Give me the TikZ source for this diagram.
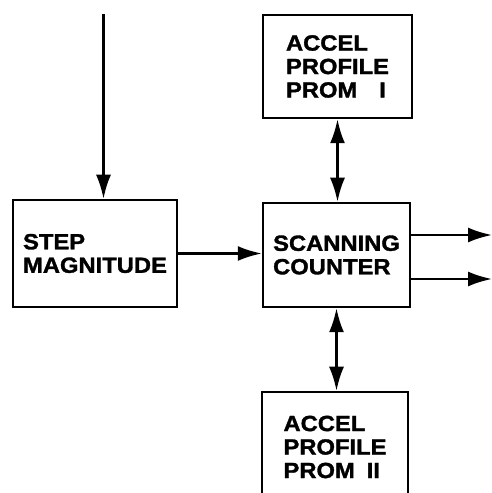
\documentclass[tikz,border=0pt]{standalone}
\usepackage{fontspec}
\setmainfont{Liberation Sans}[FakeStretch=1.08, BoldFeatures={FakeBold=1.5}]
\usetikzlibrary{arrows.meta}
\tikzstyle{block}=[draw=black, line width=2.5pt, align=left, inner sep=0pt, font=\bfseries\fontsize{22}{23.5}\selectfont]
\tikzstyle{wire}=[line width=2.5pt, -{Latex[length=24pt,width=15pt]}]
\tikzstyle{bus}=[line width=2.5pt, {Latex[length=24pt,width=15pt]}-{Latex[length=24pt,width=15pt]}]

\begin{document}
\begin{tikzpicture}[x=1pt, y=1pt]
    \useasboundingbox (0,0) rectangle (492,493);
    \clip (0,0) rectangle (492,493);

    %blocks
    \node [block, minimum width=164pt, minimum height=107pt] (step) at (95,239.5) {STEP\\MAGNITUDE};
    \node [block, minimum width=147pt, minimum height=104pt] (scan) at (336.5,238) {SCANNING\\COUNTER};
    \node [block, minimum width=149pt, minimum height=103pt] (promI) at (337.5,426.5) {ACCEL\\PROFILE\\PROM\hspace*{22pt}I};
    \node [block, minimum width=146pt, minimum height=110pt] (promII) at (335,46) {ACCEL\\PROFILE\\PROM\hspace*{12pt}II};

    %input
    \coordinate (in) at (103.5,479);
    \draw [wire] (in) -- (in |- step.north);
    \draw [wire] (step.east) -- (step.east -| scan.west);

    %proms
    \draw [bus] (promI.south) -- (promI.south |- scan.north);
    \draw [bus] (scan.south) -- (scan.south |- promII.north);

    %outputs
    \foreach \n/\y in {1/258,2/214} {
    \coordinate (out\n) at (492,\y);
    \draw [wire] (scan.east |- out\n) -- (out\n);
    }

\end{tikzpicture}
\end{document}
